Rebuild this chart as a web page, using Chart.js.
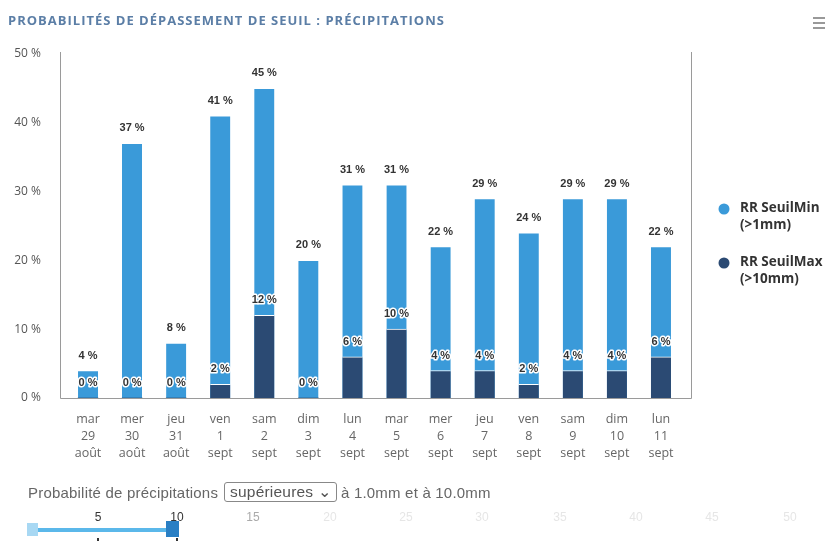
<!DOCTYPE html>
<html><head><meta charset="utf-8">
<script src="https://cdn.jsdelivr.net/npm/chart.js@4/dist/chart.umd.min.js"></script>
<style>
html,body{margin:0;padding:0;background:#fff;width:827px;height:541px;overflow:hidden;font-family:"Liberation Sans",Arial,sans-serif}
#wrap{position:relative;width:827px;height:541px}
#c{position:absolute;left:0;top:0}
#title{position:absolute;left:8px;top:11px;font-family:"Open Sans",sans-serif;font-weight:700;font-size:13px;color:#5b7ea6;white-space:nowrap;letter-spacing:1px}
.hb{position:absolute;left:813px;width:12px;height:2px;background:#999}
#ctrl{position:absolute;left:28px;top:482px;font-size:15px;color:#666;white-space:nowrap;display:flex;align-items:center;letter-spacing:0.2px}
#sel{display:inline-block;border:1px solid #888;border-radius:3px;padding:0 5px;margin:0 4px 0 6px;font-size:15.5px;color:#555}
.tk{position:absolute;top:510px;font-size:12px;transform:translateX(-50%)}
</style></head><body>
<div id="wrap">
<canvas id="c" width="827" height="541"></canvas>
<div id="title">PROBABILITÉS DE DÉPASSEMENT DE SEUIL : PRÉCIPITATIONS</div>
<div class="hb" style="top:17px"></div><div class="hb" style="top:22px"></div><div class="hb" style="top:27px"></div>
<div id="ctrl">Probabilité de précipitations<span id="sel">supérieures &#x2304;</span>à 1.0mm et à 10.0mm</div>
<div style="position:absolute;left:30px;top:528px;width:142px;height:4px;background:#5bb8ea"></div>
<div style="position:absolute;left:27px;top:523px;width:11px;height:13px;background:#a8d8f3"></div>
<div style="position:absolute;left:166px;top:521px;width:13px;height:16px;background:#2a7fc4"></div>
<div style="position:absolute;left:97px;top:538px;width:2px;height:3px;background:#333"></div>
<div style="position:absolute;left:176px;top:538px;width:2px;height:3px;background:#333"></div>
<div id="ticks"></div>
</div>
<script>
const days = ['mar','mer','jeu','ven','sam','dim','lun','mar','mer','jeu','ven','sam','dim','lun'];
const dates = ['29','30','31','1','2','3','4','5','6','7','8','9','10','11'];
const months = ['août','août','août','sept','sept','sept','sept','sept','sept','sept','sept','sept','sept','sept'];
const seuilMin = [4,37,8,41,45,20,31,31,22,29,24,29,29,22];
const seuilMax = [0,0,0,2,12,0,6,10,4,4,2,4,4,6];
const seriesNames = [['RR SeuilMin','(>1mm)'],['RR SeuilMax','(>10mm)']];
const yTicks = [0,10,20,30,40,50];
const sliderLabels = ['5','10','15','20','25','30','35','40','45','50'];
const sliderPos = [98,177,253,330,406,482,560,636,712,790];
const sliderCol = ['#333','#333','#aaa','#e6e6e6','#e6e6e6','#e6e6e6','#e6e6e6','#e6e6e6','#e6e6e6','#e6e6e6'];

const tk = document.getElementById('ticks');
sliderLabels.forEach((t,i)=>{const d=document.createElement('div');d.className='tk';d.style.left=sliderPos[i]+'px';d.style.color=sliderCol[i];d.textContent=t;tk.appendChild(d);});

const colMin = '#3a9ad9', colMax = '#2b4a73';
const labels = days.map((d,i)=>[d,dates[i],months[i]]);

const framePlugin = {
  id:'frame',
  beforeDatasetsDraw(chart){
    const {ctx, chartArea:a} = chart;
    ctx.save();
    ctx.strokeStyle='#9a9a9a'; ctx.lineWidth=1;
    ctx.beginPath();
    ctx.moveTo(60.5,52); ctx.lineTo(60.5,a.bottom+0.5); ctx.lineTo(691.5,a.bottom+0.5); ctx.lineTo(691.5,52);
    ctx.stroke();
    ctx.restore();
  }
};
const labelPlugin = {
  id:'dl',
  afterDatasetsDraw(chart){
    const ctx = chart.ctx;
    ctx.save();
    ctx.font = 'bold 11px "Liberation Sans", Arial';
    ctx.textAlign='center'; ctx.textBaseline='middle';
    ctx.lineJoin='round';
    chart.data.datasets.forEach((ds,di)=>{
      const meta = chart.getDatasetMeta(di);
      meta.data.forEach((el,i)=>{
        const t = ds.data[i] + ' %';
        const y = el.y - 15;
        ctx.lineWidth=3; ctx.strokeStyle='#fff'; ctx.strokeText(t, el.x, y);
        ctx.fillStyle='#333'; ctx.fillText(t, el.x, y);
      });
    });
    ctx.restore();
  }
};
const legendPlugin = {
  id:'lg',
  afterDraw(chart){
    const ctx = chart.ctx;
    const ys = [208, 262];
    ctx.save();
    chart.data.datasets.forEach((ds,i)=>{
      ctx.fillStyle = ds.backgroundColor;
      ctx.beginPath(); ctx.arc(724, ys[i]+1, 5.5, 0, Math.PI*2); ctx.fill();
      ctx.fillStyle='#333';
      ctx.font='bold 13.5px "Open Sans", sans-serif';
      ctx.textAlign='left'; ctx.textBaseline='middle';
      ds.label.forEach((ln,j)=> ctx.fillText(ln, 740, ys[i] + j*17));
    });
    ctx.restore();
  }
};

new Chart(document.getElementById('c'), {
  type:'bar',
  data:{
    labels: labels,
    datasets:[
      {label: seriesNames[0], data: seuilMin, backgroundColor: colMin, borderColor:'#fff', borderWidth:{top:1,left:0,right:0,bottom:0}, borderSkipped:'bottom', grouped:false, barThickness:20, order:1},
      {label: seriesNames[1], data: seuilMax, backgroundColor: colMax, borderColor:'#fff', borderWidth:{top:1,left:0,right:0,bottom:0}, borderSkipped:'bottom', grouped:false, barThickness:20, order:0}
    ]
  },
  options:{
    responsive:false, animation:false,
    layout:{padding:{left:0,right:144,top:54,bottom:0}},
    plugins:{legend:{display:false}, tooltip:{enabled:false}},
    scales:{
      x:{
        grid:{display:false}, border:{display:false},
        ticks:{font:{family:'"Open Sans", sans-serif', size:12.5, lineHeight:1.36}, color:'#666', padding:5, maxRotation:0, autoSkip:false},
        afterFit(s){ s.height = 143; }
      },
      y:{
        min:0, max:50,
        afterBuildTicks(s){ s.ticks = yTicks.map(v=>({value:v})); },
        grid:{display:false}, border:{display:false},
        ticks:{font:{family:'"Open Sans", sans-serif', size:12}, color:'#555', padding:17, callback:v=>v+' %'},
        afterFit(s){ s.width = 66; }
      }
    }
  },
  plugins:[framePlugin, labelPlugin, legendPlugin]
});
</script>
</body></html>
